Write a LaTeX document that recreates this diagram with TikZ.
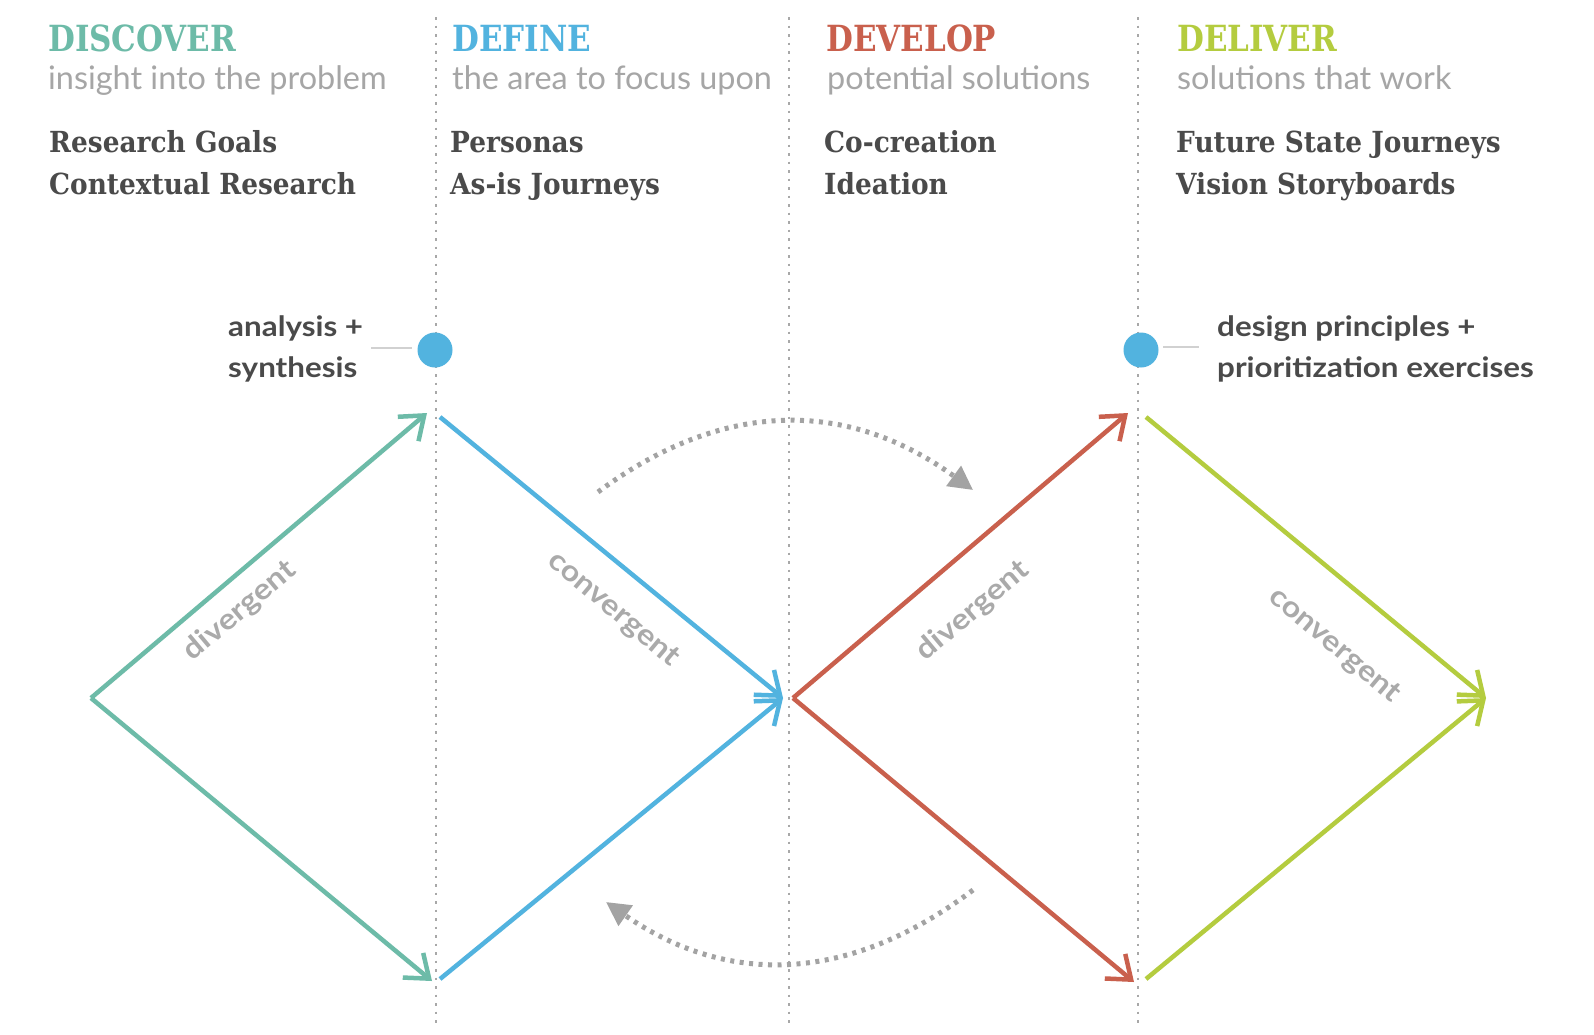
\documentclass[tikz,border=0pt]{standalone}
\usepackage{fontspec}
\setmainfont{Lato}
\newfontfamily\slab[FakeStretch=0.86]{DejaVu Serif}
\newfontfamily\slabitem[FakeStretch=0.91]{DejaVu Serif}
\newfontfamily\notefont[FakeStretch=1.12]{Lato}
\usetikzlibrary{arrows.meta}
\definecolor{cteal}{HTML}{6DBBA8}
\definecolor{cblue}{HTML}{52B3DF}
\definecolor{cred}{HTML}{C9604D}
\definecolor{cgreen}{HTML}{B4CC3F}
\definecolor{csub}{HTML}{A6A6A6}
\definecolor{cdark}{HTML}{4A4A4A}
\definecolor{clab}{HTML}{AAAAAA}
\definecolor{cdot}{HTML}{A8A8A8}
\definecolor{carc}{HTML}{A3A3A3}
\tikzset{
  head/.style={anchor=base west, inner sep=0pt, font=\slab\bfseries\fontsize{36}{40}\selectfont},
  subt/.style={anchor=base west, inner sep=0pt, text=csub, font=\fontsize{32.4}{36}\selectfont},
  item/.style={anchor=base west, inner sep=0pt, text=cdark, font=\slabitem\bfseries\fontsize{29}{34}\selectfont},
  note/.style={anchor=base west, inner sep=0pt, text=cdark, font=\notefont\bfseries\fontsize{28}{32}\selectfont},
  lab/.style={inner sep=0pt, text=clab, font=\notefont\bfseries\fontsize{29}{32}\selectfont},
  divider/.style={draw=cdot, line width=2.2pt, dash pattern=on 2.5pt off 6pt},
  flow/.style={line width=4.5pt, -{Straight Barb[length=21pt,width=32pt,line width=4.5pt]}},
  cycle/.style={draw=carc, line width=5pt, dash pattern=on 4pt off 5.5pt, -{Triangle[length=24pt,width=24pt]}},
  milestone/.style={circle, fill=cblue, minimum size=35pt, inner sep=0pt},
  tick/.style={draw=black!18, line width=1.6pt}
}
\begin{document}
\begin{tikzpicture}[x=1pt,y=-1pt]
\useasboundingbox[fill=white] (0,0) rectangle (1594,1034);
% dividers
\coordinate (d1t) at (436,17); \coordinate (d1b) at (436,1027);
\coordinate (d2t) at (789,17); \coordinate (d2b) at (789,1027);
\coordinate (d3t) at (1138,17); \coordinate (d3b) at (1138,1027);
\draw[divider] (d1t) -- (d1b);
\draw[divider] (d2t) -- (d2b);
\draw[divider] (d3t) -- (d3b);
% headings
\node[head, text=cteal] (h1) at (48,51) {DISCOVER};
\node[head, text=cblue] (h2) at (452,51) {DEFINE};
\node[head, text=cred] (h3) at (826,51) {DEVELOP};
\node[head, text=cgreen] (h4) at (1177,51) {DELIVER};
\node[subt] (s1) at (48,89) {insight into the problem};
\node[subt] (s2) at (452,89) {the area to focus upon};
\node[subt] (s3) at (827,89) {potential solutions};
\node[subt] (s4) at (1177,89) {solutions that work};
\node[item] (i1a) at (49,152) {Research Goals};
\node[item] (i1b) at (49,194) {Contextual Research};
\node[item] (i2a) at (450,152) {Personas};
\node[item] (i2b) at (450,194) {As-is Journeys};
\node[item] (i3a) at (824,152) {Co-creation};
\node[item] (i3b) at (824,194) {Ideation};
\node[item] (i4a) at (1176,152) {Future State Journeys};
\node[item] (i4b) at (1176,194) {Vision Storyboards};
% milestones
\node[milestone] (m1) at (435,350) {};
\node[milestone] (m2) at (1141,350) {};
\coordinate (t1a) at (371,348); \coordinate (t1b) at (412,348);
\coordinate (t2a) at (1163,347); \coordinate (t2b) at (1199,347);
\draw[tick] (t1a) -- (t1b);
\draw[tick] (t2a) -- (t2b);
\node[note] (n1a) at (228,336) {analysis +};
\node[note] (n1b) at (228,377) {synthesis};
\node[note] (n2a) at (1217,336) {design principles +};
\node[note] (n2b) at (1217,377) {prioritization exercises};
% diamonds
\coordinate (aL) at (91,698);
\coordinate (aT) at (427,413);
\coordinate (aB) at (432,981);
\coordinate (bT) at (440,417);
\coordinate (bB) at (440,979);
\coordinate (bR) at (783,698);
\coordinate (cL) at (793,698);
\coordinate (cT) at (1128,413);
\coordinate (cB) at (1134,982);
\coordinate (dT) at (1146,417);
\coordinate (dB) at (1146,979);
\coordinate (dR) at (1486,698);
\draw[flow, cteal] (aL) -- (aT);
\draw[flow, cteal] (aL) -- (aB);
\draw[flow, cblue] (bT) -- (bR);
\draw[flow, cblue] (bB) -- (bR);
\draw[flow, cred] (cL) -- (cT);
\draw[flow, cred] (cL) -- (cB);
\draw[flow, cgreen] (dT) -- (dR);
\draw[flow, cgreen] (dB) -- (dR);
\node[lab, rotate=40] (l1) at (240,611) {divergent};
\node[lab, rotate=-40] (l2) at (613,610) {convergent};
\node[lab, rotate=40] (l3) at (973,611) {divergent};
\node[lab, rotate=-40] (l4) at (1334,646) {convergent};
% iteration arcs
\coordinate (u0) at (598,492); \coordinate (u1) at (973,490);
\coordinate (w0) at (973,890); \coordinate (w1) at (606,902);
\draw[cycle] (u0) .. controls (723,399) and (848,399) .. (u1);
\draw[cycle] (w0) .. controls (850,983) and (728,987) .. (w1);
\end{tikzpicture}
\end{document}
